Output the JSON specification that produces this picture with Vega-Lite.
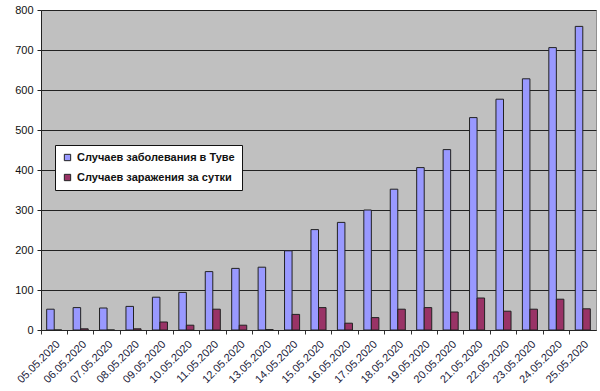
{
  "$schema": "https://vega.github.io/schema/vega-lite/v6.json",
  "width": 555,
  "height": 320,
  "autosize": {"type": "none"},
  "padding": {"left": 41, "top": 10, "right": 4, "bottom": 61},
  "background": "white",
  "config": {
    "view": {"fill": "#c0c0c0", "stroke": "#909090", "strokeWidth": 1},
    "font": "Liberation Sans"
  },
  "data": {
    "values": [
      {"date": "05.05.2020", "series": "Случаев заболевания в Туве", "value": 52},
      {"date": "06.05.2020", "series": "Случаев заболевания в Туве", "value": 56},
      {"date": "07.05.2020", "series": "Случаев заболевания в Туве", "value": 55},
      {"date": "08.05.2020", "series": "Случаев заболевания в Туве", "value": 59},
      {"date": "09.05.2020", "series": "Случаев заболевания в Туве", "value": 82},
      {"date": "10.05.2020", "series": "Случаев заболевания в Туве", "value": 94},
      {"date": "11.05.2020", "series": "Случаев заболевания в Туве", "value": 146},
      {"date": "12.05.2020", "series": "Случаев заболевания в Туве", "value": 154},
      {"date": "13.05.2020", "series": "Случаев заболевания в Туве", "value": 157},
      {"date": "14.05.2020", "series": "Случаев заболевания в Туве", "value": 198},
      {"date": "15.05.2020", "series": "Случаев заболевания в Туве", "value": 251},
      {"date": "16.05.2020", "series": "Случаев заболевания в Туве", "value": 269},
      {"date": "17.05.2020", "series": "Случаев заболевания в Туве", "value": 300},
      {"date": "18.05.2020", "series": "Случаев заболевания в Туве", "value": 352},
      {"date": "19.05.2020", "series": "Случаев заболевания в Туве", "value": 406},
      {"date": "20.05.2020", "series": "Случаев заболевания в Туве", "value": 451},
      {"date": "21.05.2020", "series": "Случаев заболевания в Туве", "value": 531},
      {"date": "22.05.2020", "series": "Случаев заболевания в Туве", "value": 577},
      {"date": "23.05.2020", "series": "Случаев заболевания в Туве", "value": 628},
      {"date": "24.05.2020", "series": "Случаев заболевания в Туве", "value": 706},
      {"date": "25.05.2020", "series": "Случаев заболевания в Туве", "value": 759},
      {"date": "05.05.2020", "series": "Случаев заражения за сутки", "value": 0},
      {"date": "06.05.2020", "series": "Случаев заражения за сутки", "value": 3},
      {"date": "07.05.2020", "series": "Случаев заражения за сутки", "value": 0},
      {"date": "08.05.2020", "series": "Случаев заражения за сутки", "value": 3},
      {"date": "09.05.2020", "series": "Случаев заражения за сутки", "value": 20},
      {"date": "10.05.2020", "series": "Случаев заражения за сутки", "value": 12},
      {"date": "11.05.2020", "series": "Случаев заражения за сутки", "value": 52},
      {"date": "12.05.2020", "series": "Случаев заражения за сутки", "value": 12},
      {"date": "13.05.2020", "series": "Случаев заражения за сутки", "value": 1},
      {"date": "14.05.2020", "series": "Случаев заражения за сутки", "value": 39},
      {"date": "15.05.2020", "series": "Случаев заражения за сутки", "value": 56},
      {"date": "16.05.2020", "series": "Случаев заражения за сутки", "value": 17},
      {"date": "17.05.2020", "series": "Случаев заражения за сутки", "value": 31},
      {"date": "18.05.2020", "series": "Случаев заражения за сутки", "value": 52},
      {"date": "19.05.2020", "series": "Случаев заражения за сутки", "value": 56},
      {"date": "20.05.2020", "series": "Случаев заражения за сутки", "value": 45},
      {"date": "21.05.2020", "series": "Случаев заражения за сутки", "value": 80},
      {"date": "22.05.2020", "series": "Случаев заражения за сутки", "value": 47},
      {"date": "23.05.2020", "series": "Случаев заражения за сутки", "value": 52},
      {"date": "24.05.2020", "series": "Случаев заражения за сутки", "value": 77},
      {"date": "25.05.2020", "series": "Случаев заражения за сутки", "value": 53}
    ]
  },
  "mark": {"type": "bar", "stroke": "#222222", "strokeWidth": 1},
  "encoding": {
    "x": {
      "field": "date",
      "type": "nominal",
      "sort": null,
      "scale": {"paddingInner": 0.43, "paddingOuter": 0.215},
      "axis": {
        "title": null,
        "labelAngle": -45,
        "labelAlign": "right",
        "labelBaseline": "top",
        "labelFontSize": 11,
        "labelColor": "#1a1a3a",
        "labelPadding": 4,
        "bandPosition": -0.377,
        "tickColor": "#333333",
        "tickSize": 4,
        "domainColor": "#222222",
        "grid": false
      }
    },
    "xOffset": {"field": "series", "type": "nominal", "scale": {"paddingInner": 0, "paddingOuter": 0}},
    "y": {
      "field": "value",
      "type": "quantitative",
      "scale": {"domain": [0, 800], "nice": false},
      "axis": {
        "title": null,
        "values": [0, 100, 200, 300, 400, 500, 600, 700, 800],
        "labelFontSize": 11,
        "labelColor": "#111111",
        "labelPadding": 4,
        "tickColor": "#222222",
        "tickSize": 4,
        "domainColor": "#222222",
        "gridColor": "#222222",
        "gridWidth": 1
      }
    },
    "color": {
      "field": "series",
      "type": "nominal",
      "scale": {
        "domain": ["Случаев заболевания в Туве", "Случаев заражения за сутки"],
        "range": ["#9999ff", "#993366"]
      },
      "legend": {
        "title": null,
        "orient": "none",
        "legendX": 14,
        "legendY": 135,
        "fillColor": "white",
        "strokeColor": "#111111",
        "padding": 7,
        "symbolType": "square",
        "symbolSize": 40,
        "symbolStrokeColor": "#222222",
        "symbolStrokeWidth": 1,
        "labelFont": "Liberation Sans",
        "labelFontWeight": "bold",
        "labelFontSize": 11,
        "labelColor": "#111111",
        "rowPadding": 8,
        "labelLimit": 300
      }
    }
  }
}
